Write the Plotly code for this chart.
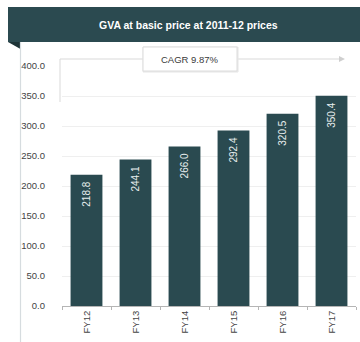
import plotly.graph_objects as go

# GVA at basic price (2011-12 prices)
years = ["FY12", "FY13", "FY14", "FY15", "FY16", "FY17"]
gva = [218.8, 244.1, 266.0, 292.4, 320.5, 350.4]
y_ticks = [0, 50, 100, 150, 200, 250, 300, 350, 400]
y_tick_text = [f"{v:.1f}" for v in y_ticks]
title_text = "GVA at basic price at 2011-12 prices"
cagr_text = "CAGR 9.87%"

W, H = 360, 342
ML, MR, MT, MB = 62, 4, 66, 36
PW, PH = W - ML - MR, H - MT - MB

DARK = "#2b4a50"
BAR = "#2a4a50"
FONT = "Arial, Liberation Sans"


def px(x):
    return (x - ML) / PW


def py(y):
    return (H - MB - y) / PH


fig = go.Figure()
fig.add_trace(go.Bar(
    x=years, y=gva,
    marker=dict(color=BAR, line=dict(width=0)),
    width=0.65,
    hoverinfo="skip",
))

shapes = [
    # header band
    dict(type="rect", xref="paper", yref="paper", x0=px(8), x1=px(362), y0=py(42), y1=py(7),
         fillcolor=DARK, line=dict(width=0), layer="above"),
    # folded corner under the header
    dict(type="path", xref="paper", yref="paper",
         path=f"M {px(8)},{py(42)} L {px(20.5)},{py(42)} L {px(20.5)},{py(49)} Z",
         fillcolor="#1d3337", line=dict(width=0), layer="above"),
    # card left border
    dict(type="line", xref="paper", yref="paper", x0=px(20.5), x1=px(20.5), y0=py(42), y1=py(342),
         line=dict(color="#d6dcdf", width=1.2)),
    # growth bracket line
    dict(type="line", xref="paper", yref="paper", x0=px(60), x1=px(340), y0=py(59), y1=py(59),
         line=dict(color="#d9d9d9", width=1)),
    dict(type="line", xref="paper", yref="paper", x0=px(60), x1=px(60), y0=py(59), y1=py(102),
         line=dict(color="#d9d9d9", width=1)),
    dict(type="path", xref="paper", yref="paper",
         path=f"M {px(339)},{py(56)} L {px(345)},{py(59)} L {px(339)},{py(62)} Z",
         fillcolor="#cfcfcf", line=dict(width=0)),
    # label box shadow and box
    dict(type="rect", xref="paper", yref="paper", x0=px(143), x1=px(238), y0=py(72), y1=py(47),
         fillcolor="#eeeeee", line=dict(color="#e6e6e6", width=1)),
    dict(type="rect", xref="paper", yref="paper", x0=px(143), x1=px(237), y0=py(71), y1=py(47),
         fillcolor="white", line=dict(color="#dcdcdc", width=1)),
]

annotations = [
    dict(text=f"<b>{title_text}</b>", xref="paper", yref="paper", x=px(188), y=py(25),
         showarrow=False, xanchor="center", yanchor="middle",
         font=dict(family=FONT, size=10.5, color="white")),
    dict(text=cagr_text, xref="paper", yref="paper", x=px(190), y=py(59.5),
         showarrow=False, xanchor="center", yanchor="middle",
         font=dict(family=FONT, size=9.5, color="#3a3a3a")),
]

# value labels, rotated, just below the top of each bar
for cat, val in zip(years, gva):
    annotations.append(dict(
        text=f"{val:.1f}", x=cat, y=val, xref="x", yref="y",
        showarrow=False, textangle=-90,
        xanchor="center", yanchor="top", yshift=-5,
        font=dict(family=FONT, size=10, color="#e8eeee"),
    ))

fig.update_layout(
    width=W, height=H,
    margin=dict(l=ML, r=MR, t=MT, b=MB, pad=0),
    paper_bgcolor="white", plot_bgcolor="white",
    showlegend=False,
    bargap=0.35,
    shapes=shapes,
    annotations=annotations,
    xaxis=dict(
        type="category",
        showgrid=False,
        showline=True, linecolor="#b5b5b5", linewidth=1,
        ticks="outside", tickson="boundaries", ticklen=3, tickcolor="#b5b5b5",
        tickangle=-90,
        tickfont=dict(family=FONT, size=9.5, color="#444"),
        fixedrange=True,
    ),
    yaxis=dict(
        range=[0, 400],
        tickvals=y_ticks, ticktext=y_tick_text,
        showgrid=True, gridcolor="#efefef", gridwidth=1,
        zeroline=False, showline=False,
        ticks="", ticklabelstandoff=16,
        tickfont=dict(family=FONT, size=9.5, color="#444"),
        fixedrange=True,
    ),
)

fig.write_html("out.html")
